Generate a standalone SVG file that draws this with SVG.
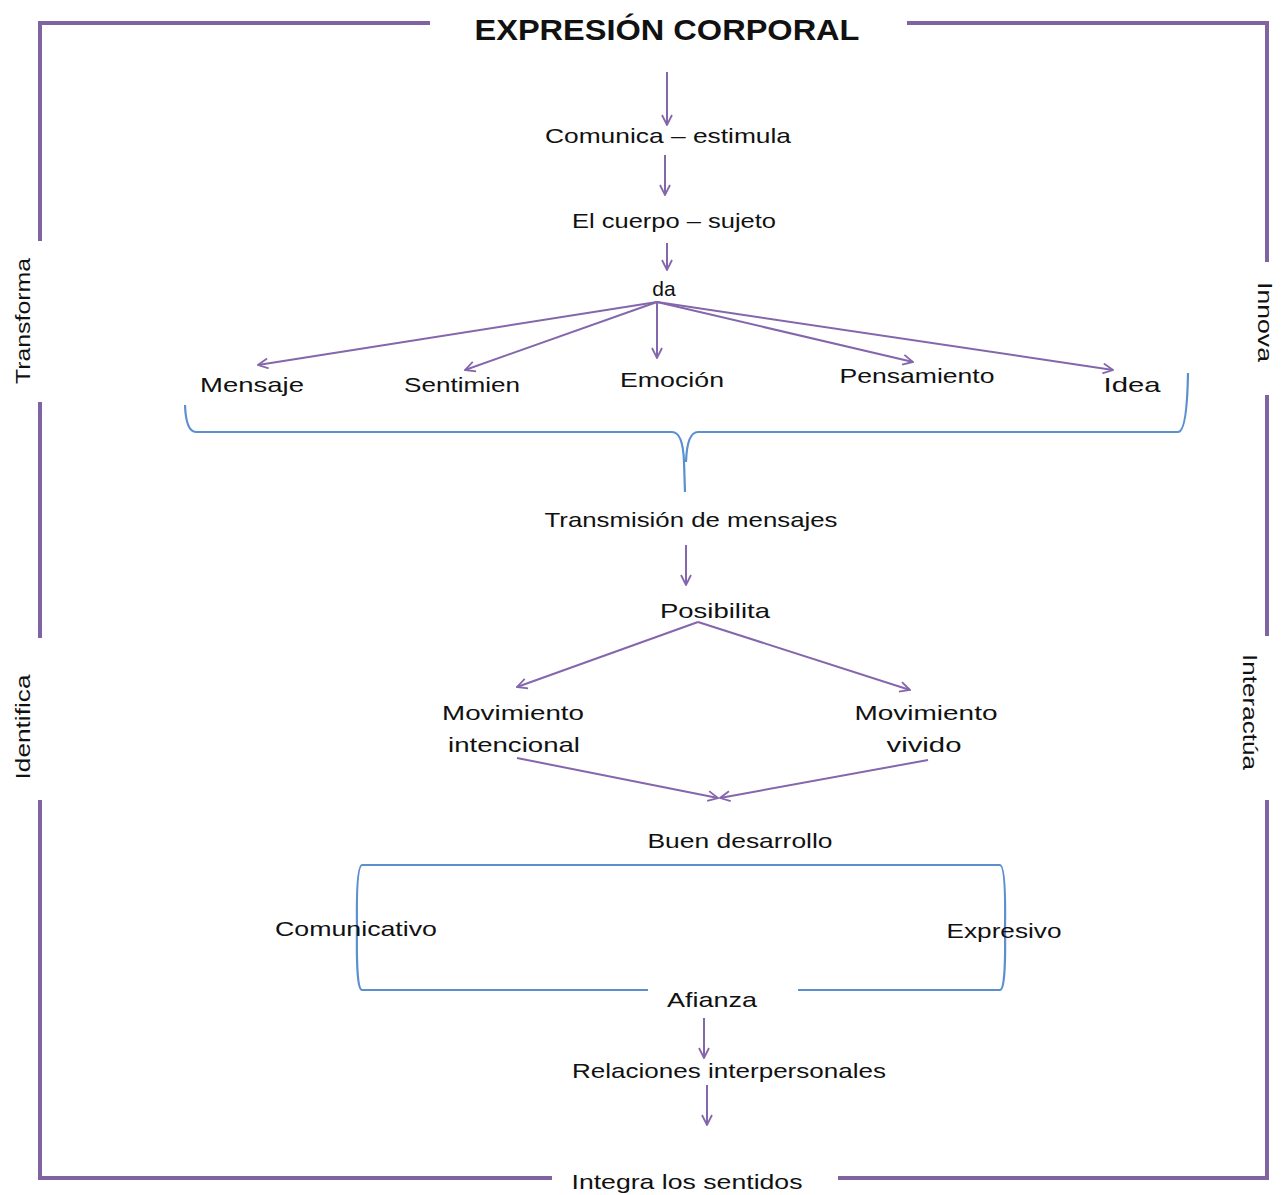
<svg xmlns="http://www.w3.org/2000/svg" width="1285" height="1195" viewBox="0 0 1285 1195">
<defs>
<style>
.frame{fill:none;stroke:#8064A2;stroke-width:4}
.arr{fill:none;stroke:#8466AC;stroke-width:2;marker-end:url(#ah)}
.blue{fill:none;stroke:#5B8FD0;stroke-width:2.2}
text{font-family:"Liberation Sans",Arial,sans-serif;font-size:21px;fill:#111}
.title{font-family:"Liberation Sans Narrow","Liberation Sans",Arial,sans-serif;font-weight:bold;font-size:30px}
</style>
<marker id="ah" viewBox="0 0 12 12" refX="11" refY="6" markerWidth="12" markerHeight="12" markerUnits="userSpaceOnUse" orient="auto">
<path d="M1,1 L11,6 L1,11" fill="none" stroke="#8466AC" stroke-width="1.8"/>
</marker>
</defs>
<rect width="1285" height="1195" fill="#fff"/>
<g id="frame">
<path class="frame" d="M40,241 V23 H430 M907,23 H1267 V262"/>
<path class="frame" d="M40,402 V638 M40,800 V1178 H552 M838,1178 H1267 V800 M1267,636 V395"/>
</g>
<g id="connectors">
<line class="arr" x1="667" y1="72" x2="667" y2="125"/>
<line class="arr" x1="665" y1="155" x2="665" y2="195"/>
<line class="arr" x1="667" y1="243" x2="667" y2="270"/>
<line class="arr" x1="657" y1="302" x2="258" y2="365"/>
<line class="arr" x1="657" y1="302" x2="465" y2="370"/>
<line class="arr" x1="657" y1="302" x2="657" y2="358"/>
<line class="arr" x1="657" y1="302" x2="913" y2="362"/>
<line class="arr" x1="657" y1="302" x2="1113" y2="370"/>
<line class="arr" x1="686" y1="545" x2="686" y2="585"/>
<line class="arr" x1="698" y1="622" x2="517" y2="687"/>
<line class="arr" x1="698" y1="622" x2="910" y2="690"/>
<line class="arr" x1="517" y1="758" x2="718" y2="798"/>
<line class="arr" x1="928" y1="760" x2="720" y2="798"/>
<line class="arr" x1="704" y1="1018" x2="704" y2="1058"/>
<line class="arr" x1="707" y1="1085" x2="707" y2="1125"/>
</g>
<g id="brace1">
<path class="blue" d="M185,405 Q186,432 196,432 L672,432 Q683,432 684,462 L685,492 M686,462 Q687,432 698,432 L1178,432 Q1187,432 1188,373"/>
</g>
<g id="bracket2">
<path class="blue" d="M648,990 L362,990 Q356,990 357,928 Q356,866 362,865 L1000,865 Q1006,866 1005,928 Q1006,990 1000,990 L798,990"/>
</g>
<g id="title"><text class="title" x="667" y="40" text-anchor="middle" textLength="385" lengthAdjust="spacingAndGlyphs">EXPRESIÓN CORPORAL</text></g>
<g id="n-comunica"><text x="668" y="143" text-anchor="middle" textLength="246" lengthAdjust="spacingAndGlyphs">Comunica – estimula</text></g>
<g id="n-cuerpo"><text x="674" y="228" text-anchor="middle" textLength="204" lengthAdjust="spacingAndGlyphs">El cuerpo – sujeto</text></g>
<g id="n-da"><text x="664" y="296" text-anchor="middle">da</text></g>
<g id="n-mensaje"><text x="252" y="392" text-anchor="middle" textLength="104" lengthAdjust="spacingAndGlyphs">Mensaje</text></g>
<g id="n-sentimien"><text x="462" y="392" text-anchor="middle" textLength="116" lengthAdjust="spacingAndGlyphs">Sentimien</text></g>
<g id="n-emocion"><text x="672" y="387" text-anchor="middle" textLength="104" lengthAdjust="spacingAndGlyphs">Emoción</text></g>
<g id="n-pensamiento"><text x="917" y="383" text-anchor="middle" textLength="155" lengthAdjust="spacingAndGlyphs">Pensamiento</text></g>
<g id="n-idea"><text x="1132" y="392" text-anchor="middle" textLength="57" lengthAdjust="spacingAndGlyphs">Idea</text></g>
<g id="n-transmision"><text x="691" y="527" text-anchor="middle" textLength="293" lengthAdjust="spacingAndGlyphs">Transmisión de mensajes</text></g>
<g id="n-posibilita"><text x="715" y="618" text-anchor="middle" textLength="110" lengthAdjust="spacingAndGlyphs">Posibilita</text></g>
<g id="n-intencional"><text x="513" y="720" text-anchor="middle" textLength="142" lengthAdjust="spacingAndGlyphs">Movimiento</text><text x="514" y="752" text-anchor="middle" textLength="132" lengthAdjust="spacingAndGlyphs">intencional</text></g>
<g id="n-vivido"><text x="926" y="720" text-anchor="middle" textLength="143" lengthAdjust="spacingAndGlyphs">Movimiento</text><text x="924" y="752" text-anchor="middle" textLength="75" lengthAdjust="spacingAndGlyphs">vivido</text></g>
<g id="n-buen"><text x="740" y="848" text-anchor="middle" textLength="185" lengthAdjust="spacingAndGlyphs">Buen desarrollo</text></g>
<g id="n-comunicativo"><text x="356" y="936" text-anchor="middle" textLength="162" lengthAdjust="spacingAndGlyphs">Comunicativo</text></g>
<g id="n-expresivo"><text x="1004" y="938" text-anchor="middle" textLength="115" lengthAdjust="spacingAndGlyphs">Expresivo</text></g>
<g id="n-afianza"><text x="712" y="1007" text-anchor="middle" textLength="90" lengthAdjust="spacingAndGlyphs">Afianza</text></g>
<g id="n-relaciones"><text x="729" y="1078" text-anchor="middle" textLength="314" lengthAdjust="spacingAndGlyphs">Relaciones interpersonales</text></g>
<g id="n-integra"><text x="687" y="1189" text-anchor="middle" textLength="231" lengthAdjust="spacingAndGlyphs">Integra los sentidos</text></g>
<g id="s-transforma"><text transform="translate(30,321) rotate(-90)" text-anchor="middle" textLength="126" lengthAdjust="spacingAndGlyphs">Transforma</text></g>
<g id="s-identifica"><text transform="translate(30,727) rotate(-90)" text-anchor="middle" textLength="105" lengthAdjust="spacingAndGlyphs">Identifica</text></g>
<g id="s-innova"><text transform="translate(1258,322) rotate(90)" text-anchor="middle" textLength="80" lengthAdjust="spacingAndGlyphs">Innova</text></g>
<g id="s-interactua"><text transform="translate(1243,712) rotate(90)" text-anchor="middle" textLength="116" lengthAdjust="spacingAndGlyphs">Interactúa</text></g>
</svg>
